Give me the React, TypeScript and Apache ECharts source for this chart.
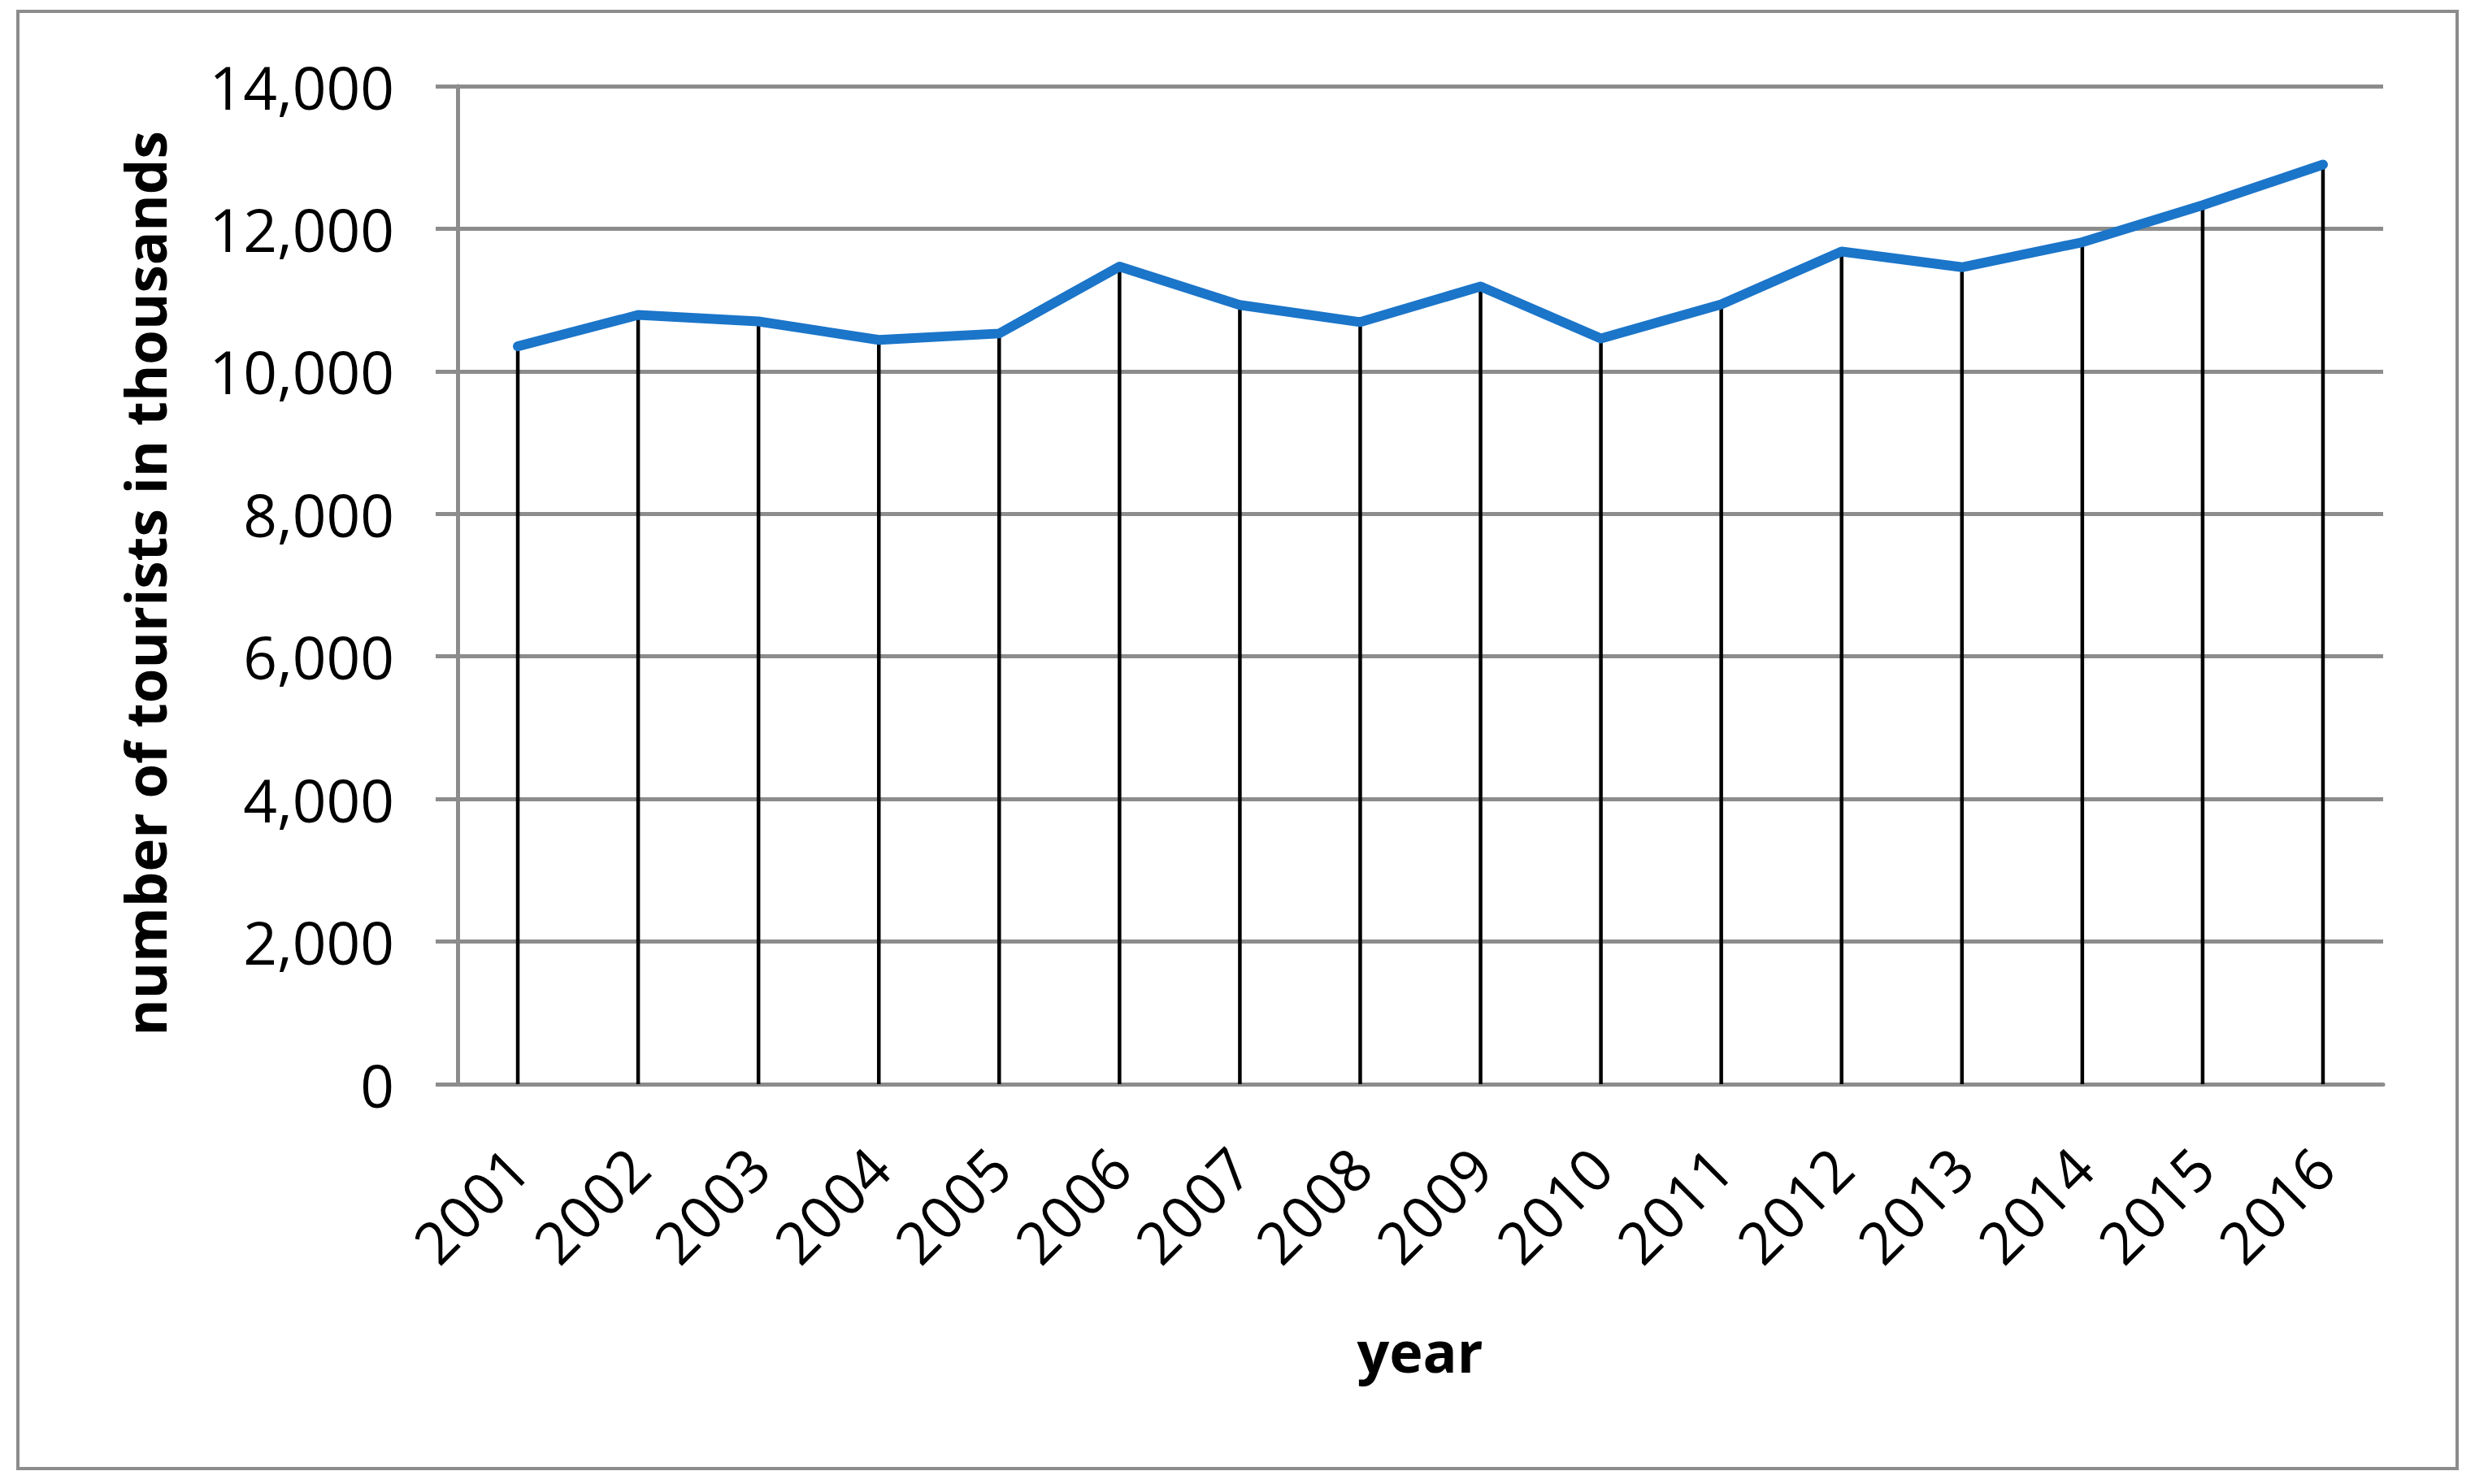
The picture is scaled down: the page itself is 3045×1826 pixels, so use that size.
import React, { useEffect, useRef } from "react";
import * as echarts from "echarts";

const years = ["2001", "2002", "2003", "2004", "2005", "2006", "2007", "2008", "2009", "2010", "2011", "2012", "2013", "2014", "2015", "2016"];
const tourists = [10350, 10790, 10700, 10440, 10530, 11470, 10930, 10690, 11190, 10460, 10940, 11680, 11460, 11810, 12330, 12900];
const yTitle = "number of tourists in thousands";
const xTitle = "year";

const FONT = "'Open Sans', 'Noto Sans', sans-serif";
const GRAY = "#8C8C8C";

export default function App() {
  const ref = useRef<HTMLDivElement>(null);
  useEffect(() => {
    if (!ref.current) return;
    const chart = echarts.init(ref.current, null, { renderer: "svg" });
    chart.setOption({
      animation: false,
      backgroundColor: "#ffffff",
      grid: { left: 563, right: 113, top: 106, bottom: 492, containLabel: false },
      xAxis: {
        type: "category",
        data: years,
        boundaryGap: true,
        axisLine: { show: true, lineStyle: { color: GRAY, width: 5 } },
        axisTick: { show: false },
        splitLine: { show: false },
        axisLabel: {
          rotate: 45,
          margin: 90,
          fontSize: 72,
          fontFamily: FONT,
          color: "#000000",
          interval: 0,
        },
      },
      yAxis: {
        type: "value",
        min: 0,
        max: 14000,
        interval: 2000,
        axisLine: { show: true, lineStyle: { color: GRAY, width: 5 } },
        axisTick: { show: true, length: 27, lineStyle: { color: GRAY, width: 5 } },
        splitLine: { show: true, lineStyle: { color: GRAY, width: 5 } },
        axisLabel: {
          margin: 78,
          fontSize: 73,
          fontFamily: FONT,
          color: "#000000",
          formatter: (v: number) => v.toLocaleString("en-US"),
        },
      },
      series: [
        {
          type: "bar",
          data: tourists,
          barWidth: 4.5,
          itemStyle: { color: "#000000" },
          z: 2,
          silent: true,
        },
        {
          type: "line",
          data: tourists,
          showSymbol: false,
          symbol: "none",
          lineStyle: { color: "#1B75C9", width: 12, cap: "round", join: "round" },
          z: 3,
        },
      ],
      graphic: [
        {
          type: "rect",
          shape: { x: 22, y: 14, width: 3001, height: 1793 },
          style: { fill: "none", stroke: GRAY, lineWidth: 4 },
          z: 0,
          silent: true,
        },
        {
          type: "text",
          x: 178,
          y: 718,
          rotation: Math.PI / 2,
          style: {
            text: yTitle,
            font: `bold 69px ${FONT}`,
            fill: "#000000",
            align: "center",
            verticalAlign: "middle",
          },
        },
        {
          type: "text",
          x: 1747,
          y: 1662,
          style: {
            text: xTitle,
            font: `bold 70px ${FONT}`,
            fill: "#000000",
            align: "center",
            verticalAlign: "middle",
          },
        },
      ],
    });
    return () => chart.dispose();
  }, []);
  return (
    <div
      ref={ref}
      style={{ position: "fixed", left: 0, top: 0, width: 3045, height: 1826, background: "#fff" }}
    />
  );
}
